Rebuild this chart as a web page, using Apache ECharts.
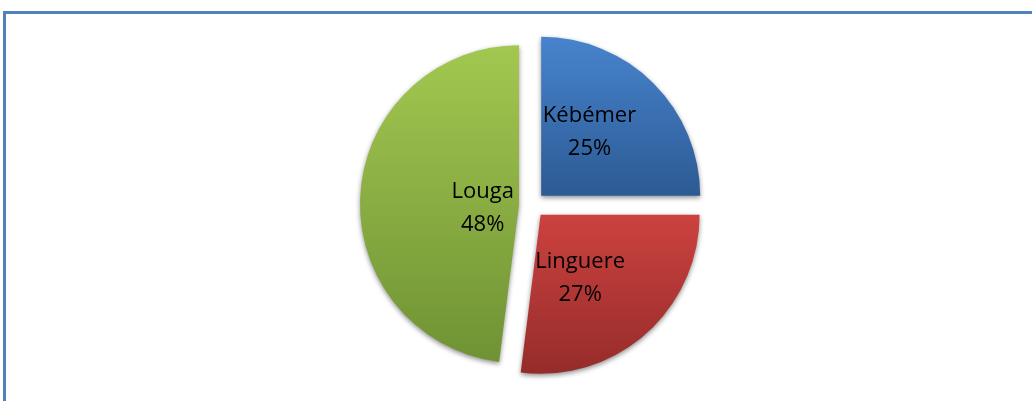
<!DOCTYPE html>
<html>
<head>
<meta charset="utf-8">
<script src="https://cdn.jsdelivr.net/npm/echarts@6/dist/echarts.min.js"></script>
<style>
  html, body { margin: 0; padding: 0; background: #fff; }
  #chart { width: 1032px; height: 401px; }
</style>
</head>
<body>
<div id="chart"></div>
<script>
const names = ["Kébémer", "Linguere", "Louga"];
const values = [25, 27, 48];

const grad = (top, bottom) =>
  new echarts.graphic.LinearGradient(0, 0, 0, 1, [
    { offset: 0, color: top },
    { offset: 1, color: bottom },
  ]);
const fills = [
  grad("#4784cd", "#2c5a94"),
  grad("#cc423f", "#952c2a"),
  grad("#a3c850", "#6f9234"),
];
// nudges so the labels sit where the original put them
const labelShift = [[-10, -5], [-15, 2], [46, 9]];

var chart = echarts.init(document.getElementById("chart"));
var option = {
  backgroundColor: "#fff",
  animation: false,
  graphic: [
    {
      type: "rect",
      shape: { x: 4.5, y: 12.5, width: 1100, height: 500 },
      style: { fill: "none", stroke: "#4f81bd", lineWidth: 3 },
      z: 0,
    },
  ],
  series: [
    {
      type: "pie",
      center: [532, 205],
      radius: 159,
      startAngle: 90,
      clockwise: true,
      avoidLabelOverlap: false,
      selectedMode: "multiple",
      selectedOffset: 13,
      itemStyle: {
        shadowBlur: 5,
        shadowOffsetY: 2,
        shadowColor: "rgba(0,0,0,0.45)",
      },
      select: { itemStyle: { borderWidth: 0 } },
      label: {
        show: true,
        position: "inside",
        formatter: "{b}\n{d}%",
        color: "#000",
        fontFamily: "Open Sans",
        fontSize: 22,
        lineHeight: 33,
      },
      labelLine: { show: false },
      labelLayout: (p) => ({
        dx: labelShift[p.dataIndex][0],
        dy: labelShift[p.dataIndex][1],
      }),
      data: names.map((n, i) => ({
        name: n,
        value: values[i],
        selected: true,
        itemStyle: { color: fills[i] },
      })),
    },
  ],
};
chart.setOption(option);
</script>
</body>
</html>
